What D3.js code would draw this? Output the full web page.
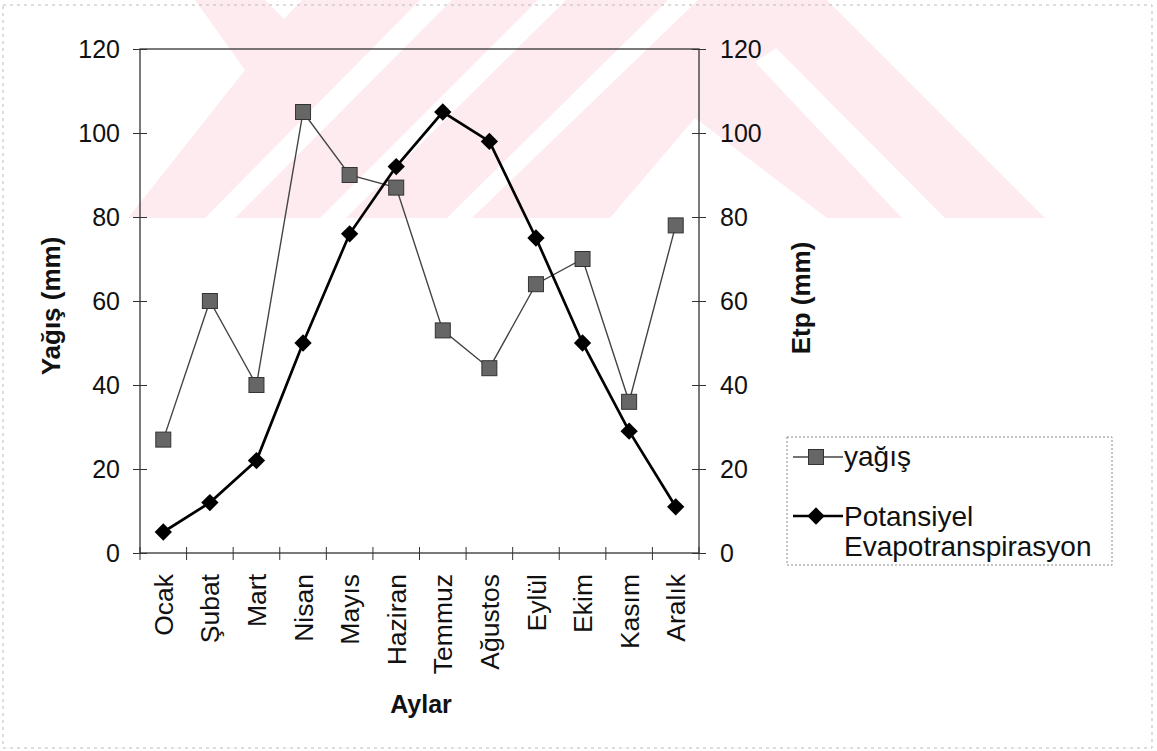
<!DOCTYPE html>
<html>
<head>
<meta charset="utf-8">
<script src="https://cdn.jsdelivr.net/npm/d3@7"></script>
<style>
  html, body { margin: 0; padding: 0; background: #fff; }
  svg { display: block; font-family: "Liberation Sans", Arial, sans-serif; }
</style>
</head>
<body>
<svg id="chart" width="1157" height="751"></svg>
<script>
// ---- data ----
const months = ["Ocak","Şubat","Mart","Nisan","Mayıs","Haziran","Temmuz","Ağustos","Eylül","Ekim","Kasım","Aralık"];
const yagis = [27, 60, 40, 105, 90, 87, 53, 44, 64, 70, 36, 78];
const etp = [5, 12, 22, 50, 76, 92, 105, 98, 75, 50, 29, 11];
const yTicks = [0, 20, 40, 60, 80, 100, 120];
const seriesNames = ["yağış", "Potansiyel", "Evapotranspirasyon"];
const axisTitles = { x: "Aylar", yLeft: "Yağış (mm)", yRight: "Etp (mm)" };

// ---- layout ----
const plot = { left: 140, right: 699, top: 49, bottom: 553 };
const svg = d3.select("#chart");

// ---- background watermark (decorative, from scan) ----
const wm = svg.append("g");
const pink = "#fdebef";
const wmPink = [[195,0],[827,0],[1045,218],[128,218],[245,70]];
const wmWhite = [
  [[265,0],[302,0],[284,19]],
  [[205,218],[235,218],[452,0],[420,0]],
  [[320,218],[346,218],[566,0],[538,0]],
  [[447,218],[472,218],[698,0],[668,0]],
  [[610,218],[695,118],[827,218]],
  [[755,62],[776,48],[945,218],[902,218]]
];
const line0 = d3.line();
wm.append("path").attr("d", line0(wmPink) + "Z").attr("fill", pink);
wmWhite.forEach(p => wm.append("path").attr("d", line0(p) + "Z").attr("fill", "#fff"));

// outer scan frame
svg.append("rect").attr("x", 3).attr("y", 5).attr("width", 1149).attr("height", 743)
  .attr("fill", "none").attr("stroke", "#bbb").attr("stroke-width", 1).attr("stroke-dasharray", "3,4");

// ---- scales ----
const x = d3.scaleBand().domain(months).range([plot.left, plot.right]).padding(0);
const yL = d3.scaleLinear().domain([0, 120]).range([plot.bottom, plot.top]);
const yR = d3.scaleLinear().domain([0, 120]).range([plot.bottom, plot.top]);
const cx = m => x(m) + x.bandwidth() / 2;

const axisColor = "#333";

// plot frame
svg.append("rect")
  .attr("x", plot.left).attr("y", plot.top)
  .attr("width", plot.right - plot.left).attr("height", plot.bottom - plot.top)
  .attr("fill", "none").attr("stroke", axisColor).attr("stroke-width", 1.3);

// left axis
const gL = svg.append("g").attr("transform", `translate(${plot.left},0)`)
  .call(d3.axisLeft(yL).tickValues(yTicks).tickSize(7).tickPadding(13).tickFormat(d3.format("d")));
gL.select(".domain").remove();
gL.selectAll(".tick line").attr("x1", 7).attr("stroke", axisColor);
gL.selectAll(".tick text").attr("font-size", 25).attr("fill", "#111")
  .attr("font-family", "Liberation Sans, Arial, sans-serif");

// right axis
const gR = svg.append("g").attr("transform", `translate(${plot.right},0)`)
  .call(d3.axisRight(yR).tickValues(yTicks).tickSize(7).tickPadding(14).tickFormat(d3.format("d")));
gR.select(".domain").remove();
gR.selectAll(".tick line").attr("x1", -7).attr("stroke", axisColor);
gR.selectAll(".tick text").attr("font-size", 25).attr("fill", "#111")
  .attr("font-family", "Liberation Sans, Arial, sans-serif");

// x axis: boundary ticks
const bounds = months.map(m => x(m)).concat([plot.right]);
svg.append("g").selectAll("line").data(bounds).join("line")
  .attr("x1", d => d).attr("x2", d => d)
  .attr("y1", plot.bottom - 6).attr("y2", plot.bottom + 7)
  .attr("stroke", axisColor).attr("stroke-width", 1);

// x labels (rotated)
svg.append("g").selectAll("text").data(months).join("text")
  .attr("transform", d => `translate(${cx(d)},${plot.bottom + 21}) rotate(-90)`)
  .attr("text-anchor", "end").attr("dy", "0.36em")
  .attr("font-size", 26.5).attr("fill", "#111").text(d => d);

// axis titles
svg.append("text").attr("x", 421).attr("y", 713).attr("text-anchor", "middle")
  .attr("font-size", 25).attr("font-weight", "bold").attr("fill", "#111").text(axisTitles.x);
svg.append("text").attr("transform", "translate(60,306) rotate(-90)").attr("text-anchor", "middle")
  .attr("font-size", 26).attr("font-weight", "bold").attr("fill", "#111").text(axisTitles.yLeft);
svg.append("text").attr("transform", "translate(810,298) rotate(-90)").attr("text-anchor", "middle")
  .attr("font-size", 26).attr("font-weight", "bold").attr("fill", "#111").text(axisTitles.yRight);

// ---- series ----
const lineL = d3.line().x((d, i) => cx(months[i])).y(d => yL(d));
const lineR = d3.line().x((d, i) => cx(months[i])).y(d => yR(d));

svg.append("path").attr("d", lineL(yagis)).attr("fill", "none")
  .attr("stroke", "#444").attr("stroke-width", 1.4);
svg.append("path").attr("d", lineR(etp)).attr("fill", "none")
  .attr("stroke", "#000").attr("stroke-width", 2.7);

const sq = 15;
svg.append("g").selectAll("rect").data(yagis).join("rect")
  .attr("x", (d, i) => cx(months[i]) - sq / 2).attr("y", d => yL(d) - sq / 2)
  .attr("width", sq).attr("height", sq)
  .attr("fill", "#666").attr("stroke", "#333").attr("stroke-width", 1);

const diamond = d3.symbol().type(d3.symbolSquare).size(150);
svg.append("g").selectAll("path").data(etp).join("path")
  .attr("d", diamond)
  .attr("transform", (d, i) => `translate(${cx(months[i])},${yR(d)}) rotate(45)`)
  .attr("fill", "#000");

// ---- legend ----
const lg = svg.append("g");
lg.append("rect").attr("x", 787).attr("y", 437).attr("width", 325).attr("height", 128)
  .attr("fill", "#fff").attr("stroke", "#888").attr("stroke-width", 1).attr("stroke-dasharray", "2,2");
// yağış entry
lg.append("line").attr("x1", 793).attr("x2", 843).attr("y1", 457).attr("y2", 457)
  .attr("stroke", "#444").attr("stroke-width", 1.4);
lg.append("rect").attr("x", 816 - sq / 2).attr("y", 457 - sq / 2).attr("width", sq).attr("height", sq)
  .attr("fill", "#666").attr("stroke", "#333");
lg.append("text").attr("x", 844).attr("y", 466).attr("font-size", 28).attr("fill", "#111").text(seriesNames[0]);
// etp entry
lg.append("line").attr("x1", 793).attr("x2", 843).attr("y1", 516).attr("y2", 516)
  .attr("stroke", "#000").attr("stroke-width", 2.7);
lg.append("path").attr("d", diamond).attr("transform", "translate(816,516) rotate(45)").attr("fill", "#000");
const t2 = lg.append("text").attr("x", 844).attr("y", 526).attr("font-size", 28).attr("fill", "#111");
t2.append("tspan").attr("x", 844).text(seriesNames[1]);
t2.append("tspan").attr("x", 844).attr("dy", 30).text(seriesNames[2]);
</script>
</body>
</html>
